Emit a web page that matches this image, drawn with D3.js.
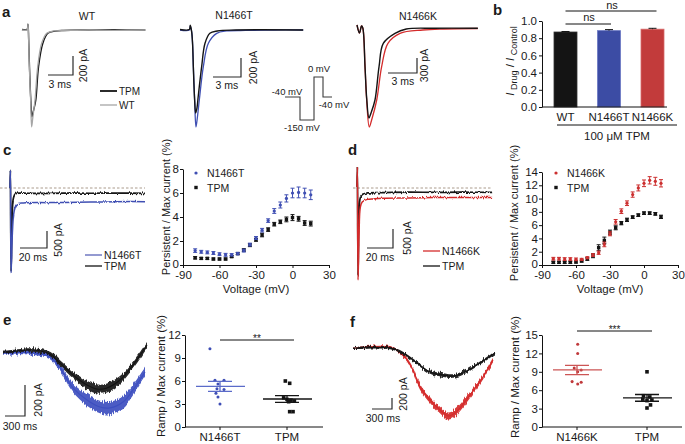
<!DOCTYPE html>
<html><head><meta charset="utf-8">
<script src="https://cdn.jsdelivr.net/npm/d3@7"></script>
<style>body{margin:0;background:#fff}</style>
</head><body><script>
// ================= DATA =================
// Panel a: peak currents [time ms, current pA]
const aWT_TPM = [[0,5],[0.6,5],[0.72,60],[0.8,-100],[0.9,-390],[1.06,-740],[1.2,-915],[1.35,-860],[1.65,-740],[1.98,-390],[2.5,-140],[3.1,-35],[4,-12],[5,-5],[8,0],[11,2],[14.8,0]];
const aWT_WT  = [[0,0],[0.6,0],[0.72,60],[0.8,-100],[0.88,-390],[1.04,-740],[1.16,-1020],[1.3,-920],[1.56,-740],[1.88,-390],[2.36,-140],[2.97,-35],[3.8,-10],[5,-5],[8,0],[11,-3],[14.8,0]];
const aT_N1466T = [[0,0],[1.0,0],[1.1,40],[1.25,-20],[1.35,-150],[1.43,-390],[1.57,-740],[1.71,-1020],[1.85,-930],[2.07,-737],[2.5,-386],[3.04,-140],[3.93,-35],[5,-10],[7,-5],[10,0],[13.2,0]];
const aT_TPM    = [[0,5],[1.0,5],[1.1,50],[1.25,-20],[1.35,-150],[1.43,-390],[1.57,-740],[1.68,-874],[1.82,-820],[1.95,-700],[2.32,-386],[2.68,-140],[3.2,-35],[4,-10],[6,0],[13.2,0]];
const aK_N1466K = [[0,60],[0.26,-100],[0.47,40],[0.6,0],[0.83,-774],[1.0,-1440],[1.27,-1980],[1.5,-1850],[2.04,-1440],[2.55,-774],[3.2,-306],[4.45,-106],[6.8,-40],[9,-20],[12.5,-10]];
const aK_TPM    = [[0,60],[0.26,-100],[0.47,40],[0.6,0],[0.83,-774],[1.0,-1400],[1.24,-1800],[1.45,-1700],[1.86,-1440],[2.28,-774],[2.72,-306],[3.93,-106],[5.1,-20],[8,-5],[12.5,-5]];
const protocolLevels = [-40,-150,0,-40];   // mV
const protocolDur = [15,14,9,9];           // schematic duration units
// Panel b
const bCats = ["WT","N1466T","N1466K"];
const bMeans = [0.872,0.888,0.905];
const bSEM = [0.006,0.012,0.010];
const bTicks = [0,0.2,0.4,0.6,0.8,1.0];
// Panel c/d persistent traces [ms, pA]
const cTrTPM = [[0,0],[0.3,520],[0.8,-2450],[1.6,-900],[2.5,-300],[4,-170],[8,-150],[20,-160],[40,-150],[60,-155],[80,-150],[100,-160]];
const cTrN1466T = [[0,0],[0.3,520],[0.8,-2500],[1.8,-1300],[3,-700],[5,-480],[10,-440],[30,-430],[50,-420],[70,-410],[90,-400],[100,-405]];
const dTrTPM = [[0,0],[0.3,550],[0.8,-2300],[1.6,-600],[2.5,-260],[4,-170],[8,-130],[20,-120],[40,-110],[60,-115],[80,-110],[104,-115]];
const dTrN1466K = [[0,0],[0.3,550],[0.8,-2420],[1.6,-1200],[2.5,-520],[4,-370],[8,-300],[20,-270],[40,-260],[60,-250],[80,-250],[104,-250]];
// Panel c/d I-V of persistent current
const voltages = [-80,-75,-70,-65,-60,-55,-50,-45,-40,-35,-30,-25,-20,-15,-10,-5,0,5,10,15];
const cN1466T = [1.2,1.1,1.05,1.0,0.9,0.85,0.85,0.95,1.2,1.7,2.25,2.9,3.7,4.5,5.0,5.55,6.0,6.05,6.0,5.85];
const cN1466T_err = [0.15,0.12,0.12,0.12,0.12,0.12,0.1,0.1,0.12,0.12,0.12,0.15,0.15,0.2,0.25,0.3,0.4,0.45,0.4,0.4];
const cTPM = [0.6,0.55,0.55,0.5,0.5,0.5,0.7,0.95,1.25,1.65,2.1,2.5,2.95,3.4,3.6,3.8,3.95,3.85,3.5,3.45];
const cTPM_err = [0.1,0.08,0.08,0.08,0.08,0.08,0.08,0.08,0.1,0.12,0.12,0.15,0.15,0.15,0.15,0.2,0.25,0.2,0.2,0.2];
const dN1466K = [0.95,0.95,0.9,0.9,0.85,0.85,1.1,1.5,1.85,3.1,4.7,6.5,8.1,9.3,10.6,11.6,12.3,12.75,12.6,12.3];
const dN1466K_err = [0.2,0.2,0.2,0.2,0.2,0.15,0.15,0.2,0.25,0.35,0.3,0.35,0.35,0.35,0.4,0.45,0.5,0.55,0.6,0.55];
const dTPM = [0.4,0.4,0.4,0.4,0.45,0.6,0.9,1.4,2.6,3.7,4.9,5.6,6.3,6.8,7.2,7.5,7.8,7.8,7.7,7.25];
const dTPM_err = [0.15,0.15,0.15,0.15,0.15,0.15,0.2,0.3,0.45,0.5,0.35,0.3,0.25,0.25,0.2,0.2,0.2,0.2,0.2,0.25];
const ivXTicks = [-90,-60,-30,0,30];
const cYTicks = [0,2,4,6,8];
const dYTicks = [0,2,4,6,8,10,12,14];
// Panel e/f ramp traces [ms, pA] and noise half-amplitude (pA)
const eRampTPM = [[0,0],[60,0],[450,13],[705,-13],[855,-71],[1050,-148],[1260,-213],[1410,-239],[1560,-232],[1755,-181],[1950,-84],[2160,45]];
const eRampTPM_noise = [10,10,11,14,18,22,27,29,29,26,23,20];
const eRampN1466T = [[0,-6],[60,-6],[450,-6],[705,-32],[855,-103],[1050,-232],[1260,-310],[1455,-355],[1605,-361],[1800,-323],[1950,-245],[2130,-129]];
const eRampN1466T_noise = [11,11,11,14,20,28,36,40,40,38,34,29];
const fRampTPM = [[0,0],[30,0],[555,0],[750,-91],[960,-273],[1155,-436],[1350,-491],[1500,-509],[1650,-455],[1905,-273],[2130,-91]];
const fRampTPM_noise = [20,20,22,25,28,32,34,34,32,28,26];
const fRampN1466K = [[0,0],[30,0],[555,18],[750,-127],[885,-364],[1005,-709],[1155,-945],[1305,-1127],[1425,-1236],[1530,-1182],[1755,-855],[1950,-527],[2100,-218]];
const fRampN1466K_noise = [18,18,18,26,40,50,55,60,64,64,55,46,40];
// Panel e/f ramp/max scatter
const eCats = ["N1466T","TPM"];
const eN1466T = [10.2,6.1,6.1,5.6,5.0,4.9,4.4,3.9,3.0];
const eN1466T_jit = [-0.15,-0.075,0.06,-0.03,-0.045,0.06,-0.06,-0.03,0];
const eTPM = [6.0,5.7,3.8,3.6,3.5,3.4,3.3,2.0,2.0];
const eTPM_jit = [-0.025,0.04,-0.05,0,0.06,0.11,0.025,0.04,0.09];
const eMeans = [5.3,3.65], eSEM = [0.65,0.45];
const eYTicks = [0,3,6,9,12];
const fCats = ["N1466K","TPM"];
const fN1466K = [13.5,12.0,9.6,9.3,9.0,7.4,7.3,7.0];
const fN1466K_jit = [0.01,0.01,-0.04,0.06,0.01,-0.07,0.06,0.01];
const fTPM = [9.0,5.1,4.9,4.55,4.3,4.4,3.6,3.1];
const fTPM_jit = [0,-0.05,0.04,-0.06,0,0.07,0.05,0];
const fMeans = [9.3,4.75], fSEM = [0.75,0.55];
const fYTicks = [0,3,6,9,12,15];

// ================= DRAWING =================
const FONT = '"Liberation Sans", Arial, Helvetica, sans-serif';
const BLACK="#141414", BLUE="#3f4fb3", RED="#d42c2c", GRAY="#a6a6a6", TXT="#1a1a1a";
const BARBLUE="#3c4ca4", BARRED="#c23b3b";
const svg = d3.select("body").append("svg").attr("width",685).attr("height",444)
  .style("font-family",FONT);

// texture filters that roughen recorded traces (vertical displacement only)
const defs = svg.append("defs");
function noiseFilter(id,freq,scale,seed){
  const f = defs.append("filter").attr("id",id).attr("x","-5%").attr("y","-30%").attr("width","110%").attr("height","160%");
  f.append("feTurbulence").attr("type","fractalNoise").attr("baseFrequency",freq).attr("numOctaves",2).attr("seed",seed).attr("result","t");
  f.append("feColorMatrix").attr("in","t").attr("type","matrix")
    .attr("values","0 0 0 0 0.5  0 1 0 0 0  0 0 1 0 0  0 0 0 0 1").attr("result","t2");
  f.append("feDisplacementMap").attr("in","SourceGraphic").attr("in2","t2").attr("scale",scale)
    .attr("xChannelSelector","R").attr("yChannelSelector","G");
}
noiseFilter("rough","0.9 0.08",7,3);
noiseFilter("rough2","0.9 0.1",3.5,7);

function txt(x,y,s,size,o={}){
  const t = svg.append("text").attr("x",x).attr("y",y).attr("font-size",size).attr("fill",o.fill||TXT).text(s);
  if(o.anchor) t.attr("text-anchor",o.anchor);
  if(o.weight) t.attr("font-weight",o.weight);
  if(o.rotate) t.attr("transform",`rotate(-90,${x},${y})`);
  return t;
}
function tScale(x0,pxPer){ return d3.scaleLinear().domain([0,1]).range([x0,x0+pxPer]); }
const curve = d3.curveCatmullRom.alpha(0.5);
function trace(data,xs,ys,color,w=1.3,filter=null){
  const p = svg.append("path").datum(data).attr("fill","none").attr("stroke",color).attr("stroke-width",w)
    .attr("stroke-linejoin","round").attr("d",d3.line().x(d=>xs(d[0])).y(d=>ys(d[1])).curve(curve));
  if(filter) p.attr("filter",`url(#${filter})`);
}
function band(data,noise,xs,ys,color){
  const pts = data.map((d,i)=>[d[0],d[1],noise[i]]);
  svg.append("path").datum(pts).attr("fill",color).attr("opacity",0.92).attr("filter","url(#rough)")
    .attr("d",d3.area().x(d=>xs(d[0])).y0(d=>ys(d[1]-d[2])).y1(d=>ys(d[1]+d[2])).curve(curve));
  trace(data,xs,ys,color,1.2);
}
function scaleBar(cx,cy,xs,ys,dt,di,tLab,iLab,tLabX,tLabY,iLabX,iLabY,fs=10.5){
  const lx = Math.abs(xs(dt)-xs(0)), ly = Math.abs(ys(di)-ys(0));
  svg.append("path").attr("d",`M${cx-lx},${cy}H${cx}V${cy-ly}`).attr("fill","none").attr("stroke","#2a2a2a").attr("stroke-width",1.2);
  txt(tLabX,tLabY,tLab,fs,{anchor:"middle"});
  txt(iLabX,iLabY,iLab,fs,{anchor:"middle",rotate:true});
}
function legLine(x1,x2,y,color,label,fs=10.5,w=1.5){
  svg.append("line").attr("x1",x1).attr("x2",x2).attr("y1",y).attr("y2",y).attr("stroke",color).attr("stroke-width",w);
  txt(x2+2,y+4,label,fs);
}
function styleAxis(g,fs){
  g.attr("font-family",FONT).attr("font-size",fs);
  g.selectAll("path.domain").attr("stroke","#111").attr("stroke-width",1);
  g.selectAll(".tick line").attr("stroke","#111").attr("stroke-width",1);
  g.selectAll(".tick text").attr("fill",TXT);
}
function marker(cx,cy,shape,color,s=1.7){
  if(shape==="sq") svg.append("rect").attr("x",cx-s).attr("y",cy-s).attr("width",2*s).attr("height",2*s).attr("fill",color);
  else svg.append("circle").attr("cx",cx).attr("cy",cy).attr("r",s*0.95).attr("fill",color);
}

// ---- panel labels
txt(2,17,"a",15,{weight:"bold"});
txt(493,15,"b",15,{weight:"bold"});
txt(3,155,"c",15,{weight:"bold"});
txt(348,155,"d",15,{weight:"bold"});
txt(3,325,"e",15,{weight:"bold"});
txt(350,327,"f",15,{weight:"bold"});

// ---- Panel a
{
  let xs=tScale(22,25/3), ys=d3.scaleLinear().domain([0,-200]).range([30,49]);
  trace(aWT_TPM,xs,ys,BLACK,1.4); trace(aWT_WT,xs,ys,GRAY,1.3);
  txt(87,20,"WT",10.5,{anchor:"middle"});
  scaleBar(73,75,xs,ys,3,-200,"3 ms","200 pA",60,88,87,65.5);
  legLine(100,117,91,BLACK,"TPM",10,1.8);
  legLine(100,117,105,GRAY,"WT",10,1.3);

  xs=tScale(180,28/3); ys=d3.scaleLinear().domain([0,-200]).range([30,49]);
  trace(aT_N1466T,xs,ys,BLUE,1.3); trace(aT_TPM,xs,ys,BLACK,1.4);
  txt(234,19,"N1466T",10.5,{anchor:"middle"});
  scaleBar(241,77,xs,ys,3,-200,"3 ms","200 pA",227,89,257,67.5);

  xs=tScale(357,29/3); ys=d3.scaleLinear().domain([0,-300]).range([28,43]);
  trace(aK_N1466K,xs,ys,RED,1.3); trace(aK_TPM,xs,ys,BLACK,1.4);
  txt(418,20,"N1466K",10.5,{anchor:"middle"});
  scaleBar(417,73,xs,ys,3,-300,"3 ms","300 pA",403,85,428,65.5);

  const vy = d3.scaleLinear().domain([-150,-40,0]).range([120,97,77]);
  const px = d3.scaleLinear().domain([0,1]).range([285,286]);
  let t=0; const pts=[];
  protocolLevels.forEach((v,i)=>{ pts.push([t,v]); t+=protocolDur[i]; pts.push([t,v]); });
  svg.append("path").datum(pts).attr("fill","none").attr("stroke","#3a3a3a").attr("stroke-width",1.1)
    .attr("d",d3.line().x(d=>px(d[0])).y(d=>vy(d[1])));
  txt(287,95,"-40 mV",9.5,{anchor:"middle"});
  txt(319,72,"0 mV",9.5,{anchor:"middle"});
  txt(334,108,"-40 mV",9.5,{anchor:"middle"});
  txt(302,131,"-150 mV",9.5,{anchor:"middle"});
}

// ---- Panel b
{
  const y = d3.scaleLinear().domain([0,1]).range([107,21]);
  const x = d3.scalePoint().domain(bCats).range([565.5,652.5]);
  const bw = 23, cols=[BLACK,BARBLUE,BARRED];
  bCats.forEach((c,i)=>{
    svg.append("rect").attr("x",x(c)-bw/2).attr("y",y(bMeans[i])).attr("width",bw).attr("height",y(0)-y(bMeans[i]))
      .attr("fill",cols[i]).attr("stroke",i==0?"#333":(i==1?"#6a78c4":"#d86a6a")).attr("stroke-width",0.8);
    svg.append("path").attr("d",`M${x(c)},${y(bMeans[i])}V${y(bMeans[i]+bSEM[i])}M${x(c)-4},${y(bMeans[i]+bSEM[i])}H${x(c)+4}`)
      .attr("stroke",BLACK).attr("stroke-width",1);
  });
  const ga = svg.append("g").attr("transform","translate(542,0)").call(d3.axisLeft(y).tickValues(bTicks).tickFormat(d3.format(".1f")).tickSize(3).tickSizeOuter(0).tickPadding(2));
  styleAxis(ga,11.5);
  svg.append("line").attr("x1",542).attr("x2",667).attr("y1",107).attr("y2",107).attr("stroke","#111");
  bCats.forEach(c=>txt(x(c),121,c,11.5,{anchor:"middle"}));
  svg.append("line").attr("x1",557).attr("x2",677).attr("y1",125).attr("y2",125).attr("stroke","#111");
  txt(617,140,"100 μM TPM",11.5,{anchor:"middle"});
  svg.append("line").attr("x1",x("WT")).attr("x2",x("N1466K")+4).attr("y1",11).attr("y2",11).attr("stroke","#111");
  txt(612,8.5,"ns",11,{anchor:"middle"});
  svg.append("line").attr("x1",x("WT")).attr("x2",x("N1466T")+2).attr("y1",24).attr("y2",24).attr("stroke","#111");
  txt(589,21,"ns",11,{anchor:"middle"});
  const yl = svg.append("text").attr("transform","rotate(-90,514,61)").attr("x",514).attr("y",61)
    .attr("text-anchor","middle").attr("font-size",11.5).attr("fill",TXT);
  yl.append("tspan").attr("font-style","italic").text("I");
  yl.append("tspan").attr("font-size",9).attr("dy",3).text(" Drug");
  yl.append("tspan").attr("dy",-3).text(" / ");
  yl.append("tspan").attr("font-style","italic").text("I");
  yl.append("tspan").attr("font-size",9).attr("dy",3).text(" Control");
}

// ---- Panel c / d traces
{
  let xs=tScale(10,27/20), ys=d3.scaleLinear().domain([0,-500]).range([188,205]);
  svg.append("line").attr("x1",0).attr("x2",145).attr("y1",ys(0)).attr("y2",ys(0)).attr("stroke","#a09080").attr("stroke-width",0.9).attr("stroke-dasharray","2.5,2");
  trace(cTrTPM,xs,ys,BLACK,1.7,"rough2"); trace(cTrN1466T,xs,ys,BLUE,1.5,"rough2");
  scaleBar(47,248,xs,ys,20,-500,"20 ms","500 pA",33,261,62,240);
  legLine(85,102,255,"#5a64b8","N1466T",10.5,1.3);
  legLine(85,102,266,BLACK,"TPM",10.5,1.3);

  xs=tScale(357,26/20); ys=d3.scaleLinear().domain([0,-500]).range([188,207]);
  svg.append("line").attr("x1",353).attr("x2",492).attr("y1",ys(0)).attr("y2",ys(0)).attr("stroke","#a09080").attr("stroke-width",0.9).attr("stroke-dasharray","2.5,2");
  trace(dTrTPM,xs,ys,BLACK,1.7,"rough2"); trace(dTrN1466K,xs,ys,RED,1.5,"rough2");
  scaleBar(393,248,xs,ys,20,-500,"20 ms","500 pA",380,261,411,238);
  legLine(423,440,251,RED,"N1466K",10.5,1.3);
  legLine(423,440,266,BLACK,"TPM",10.5,1.3);
}

// ---- I-V plots
function ivPlot(xr,yr,yDom,yTicks,series,legX,legY,ylabX,ylabY){
  const x=d3.scaleLinear().domain([-90,30]).range(xr);
  const y=d3.scaleLinear().domain(yDom).range(yr);
  series.forEach(s=>{
    voltages.forEach((v,i)=>{
      const cx=x(v), v0=s.vals[i], e=s.err[i];
      svg.append("path").attr("d",`M${cx-2},${y(v0+e)}H${cx+2}M${cx},${y(v0+e)}V${y(v0-e)}M${cx-2},${y(v0-e)}H${cx+2}`)
        .attr("stroke",s.color).attr("stroke-width",1).attr("fill","none");
      marker(cx,y(v0),s.shape,s.color);
    });
  });
  const gx=svg.append("g").attr("transform",`translate(0,${yr[0]})`).call(d3.axisBottom(x).tickValues(ivXTicks).tickFormat(d=>String(d)).tickSize(3).tickSizeOuter(0).tickPadding(3));
  styleAxis(gx,11.5);
  const gy=svg.append("g").attr("transform",`translate(${xr[0]},0)`).call(d3.axisLeft(y).tickValues(yTicks).tickSize(3).tickSizeOuter(0).tickPadding(1));
  styleAxis(gy,11.5);
  gy.selectAll(".tick text").filter(d=>d===0).attr("dy","0.2em");
  txt((xr[0]+xr[1])/2,yr[0]+28,"Voltage (mV)",11.5,{anchor:"middle"});
  txt(ylabX,ylabY,"Persistent / Max current (%)",11,{anchor:"middle",rotate:true});
  series.slice().reverse().forEach((s,i)=>{
    const ly=legY+i*14.5;
    marker(legX,ly,s.shape,s.color);
    txt(legX+11,ly+4,s.name,10.5);
  });
}
ivPlot([183,329],[265,169],[0,8],cYTicks,[
  {vals:cTPM,err:cTPM_err,color:BLACK,shape:"sq",name:"TPM"},
  {vals:cN1466T,err:cN1466T_err,color:BLUE,shape:"dot",name:"N1466T"}],196,173,170,207);
ivPlot([542,678],[265,172],[0,14],dYTicks,[
  {vals:dTPM,err:dTPM_err,color:BLACK,shape:"sq",name:"TPM"},
  {vals:dN1466K,err:dN1466K_err,color:"#cc3030",shape:"dot",name:"N1466K"}],556,173,518,213);

// ---- Panel e / f ramp traces
{
  let xs=tScale(3,20/300), ys=d3.scaleLinear().domain([0,-200]).range([352,383]);
  band(eRampN1466T,eRampN1466T_noise,xs,ys,"#3d4fc0");
  band(eRampTPM,eRampTPM_noise,xs,ys,BLACK);
  scaleBar(25,416,xs,ys,300,-200,"300 ms","200 pA",20,430,42,400);

  xs=tScale(353,20/300); ys=d3.scaleLinear().domain([0,-200]).range([348,359]);
  band(fRampN1466K,fRampN1466K_noise,xs,ys,"#d42a2a");
  band(fRampTPM,fRampTPM_noise,xs,ys,BLACK);
  scaleBar(392,409,xs,ys,300,-200,"300 ms","200 pA",383,422,407,394);
}

// ---- Panel e / f scatter
function dotPlot(cats,xr,axisX0,axisX1,yDom,yr,yTicks,groups,means,sems,sig,ylabX,ylabY){
  const x=d3.scalePoint().domain(cats).range(xr);
  const y=d3.scaleLinear().domain(yDom).range(yr);
  const step=xr[1]-xr[0];
  groups.forEach((gr,gi)=>{
    const c=cats[gi];
    gr.vals.forEach((v,i)=>marker(x(c)+gr.jit[i]*step,y(v),gr.shape,gr.color,gr.shape==="sq"?1.8:1.6));
    const cx=x(c), m=means[gi], s=sems[gi];
    svg.append("path").attr("d",`M${cx-24},${y(m)}H${cx+25}M${cx-12},${y(m+s)}H${cx+12}M${cx-12},${y(m-s)}H${cx+12}M${cx},${y(m+s)}V${y(m-s)}`)
      .attr("stroke",gr.lineColor).attr("stroke-width",1.3).attr("fill","none");
  });
  const gy=svg.append("g").attr("transform",`translate(${axisX0},0)`).call(d3.axisLeft(y).tickValues(yTicks).tickSize(3).tickSizeOuter(0).tickPadding(1));
  styleAxis(gy,11.5);
  svg.append("line").attr("x1",axisX0).attr("x2",axisX1).attr("y1",yr[0]).attr("y2",yr[0]).attr("stroke","#111");
  cats.forEach(c=>{
    svg.append("line").attr("x1",x(c)).attr("x2",x(c)).attr("y1",yr[0]).attr("y2",yr[0]+3).attr("stroke","#111");
    txt(x(c),yr[0]+14,c,11.5,{anchor:"middle"});
  });
  svg.append("line").attr("x1",x(cats[0])).attr("x2",sig.x2).attr("y1",sig.y).attr("y2",sig.y).attr("stroke","#111");
  txt((x(cats[0])+sig.x2)/2,sig.y+2,sig.label,10,{anchor:"middle"});
  txt(ylabX,ylabY,"Ramp / Max current (%)",11.5,{anchor:"middle",rotate:true});
}
dotPlot(eCats,[220,287],185,323,[0,12],[427,335],eYTicks,[
  {vals:eN1466T,jit:eN1466T_jit,shape:"dot",color:"#3d4db5",lineColor:"#5b6bc9"},
  {vals:eTPM,jit:eTPM_jit,shape:"sq",color:BLACK,lineColor:BLACK}],eMeans,eSEM,{x2:294,y:340,label:"**"},165,376);
dotPlot(fCats,[577,647],542,682,[0,15],[427,335],fYTicks,[
  {vals:fN1466K,jit:fN1466K_jit,shape:"dot",color:"#c0393b",lineColor:"#cc5555"},
  {vals:fTPM,jit:fTPM_jit,shape:"sq",color:BLACK,lineColor:BLACK}],fMeans,fSEM,{x2:652,y:331,label:"***"},519,377);
</script></body></html>
